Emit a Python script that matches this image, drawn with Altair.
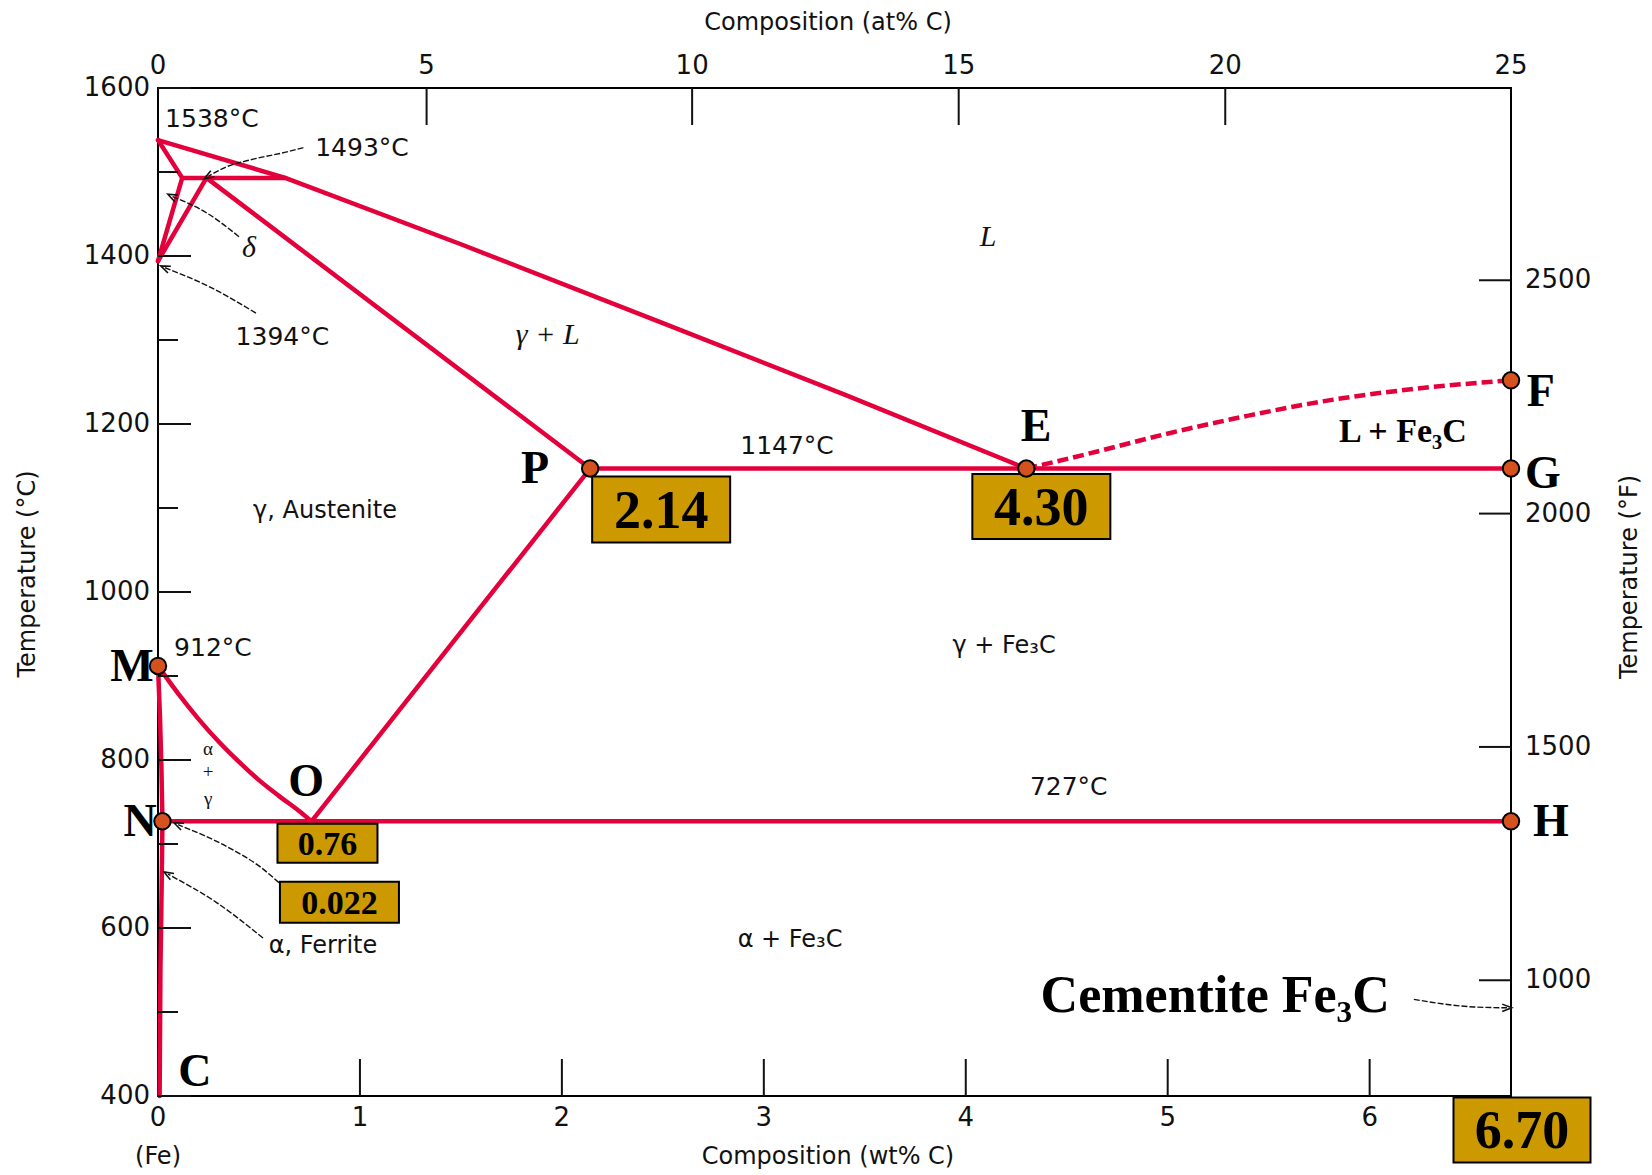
import altair as alt
import pandas as pd

# ---------------- data: axes ----------------
WT_TICKS = [0, 1, 2, 3, 4, 5, 6]
T_MAJOR = [400, 600, 800, 1000, 1200, 1400, 1600]
T_MINOR = [500, 700, 900, 1100, 1300, 1500]
AT_PCT_LABELS = [0, 5, 10, 15, 20, 25]
AT_PCT_AT_WT = [0.0, 1.33, 2.645, 3.965, 5.285, 6.70]
F_TICKS = [1000, 1500, 2000, 2500]

# ---------------- data: phase boundaries (wt% C, deg C) ----------------
LIQUIDUS_WT = [0.0, 0.63, 1.50, 2.50, 3.40, 4.30]
LIQUIDUS_T = [1538, 1493, 1414, 1320, 1235, 1147]
DELTA_SOLIDUS_WT = [0.0, 0.12]
DELTA_SOLIDUS_T = [1538, 1493]
PERITECTIC_WT = [0.12, 0.63]
PERITECTIC_T = [1493, 1493]
DELTA_SOLVUS_WT = [0.12, 0.0]
DELTA_SOLVUS_T = [1493, 1394]
GAMMA_DELTA_WT = [0.24, 0.0]
GAMMA_DELTA_T = [1493, 1394]
SOLIDUS_WT = [0.24, 2.14]
SOLIDUS_T = [1493, 1147]
EUTECTIC_WT = [2.14, 6.70]
EUTECTIC_T = [1147, 1147]
ACM_WT = [0.76, 2.14]
ACM_T = [727, 1147]
A3_WT = [0.0, 0.10, 0.20, 0.30, 0.40, 0.50, 0.60, 0.70, 0.76]
A3_T = [912, 879, 849, 822, 798, 776, 757, 739, 727]
EUTECTOID_WT = [0.022, 6.70]
EUTECTOID_T = [727, 727]
FERRITE_WT = [0.0, 0.010, 0.017, 0.022, 0.018, 0.012, 0.008]
FERRITE_T = [912, 850, 790, 727, 650, 550, 400]
CEMENTITE_LIQ_WT = [4.30, 4.58, 4.99, 5.40, 5.82, 6.23, 6.70]
CEMENTITE_LIQ_T = [1147, 1163, 1188, 1210, 1229, 1242, 1252]

# ---------------- data: key points ----------------
POINT_NAMES = ["M", "N", "O", "P", "E", "F", "G", "H", "C"]
POINT_WT = [0.0, 0.022, 0.76, 2.14, 4.30, 6.70, 6.70, 6.70, 0.008]
POINT_T = [912, 727, 727, 1147, 1147, 1252, 1147, 727, 400]
MARKED = ["M", "N", "P", "E", "F", "G", "H"]
LETTER_WT = [-0.129, -0.089, 0.733, 1.867, 4.348, 6.848, 6.858, 6.898, 0.183]
LETTER_T = [911, 726, 774, 1146, 1196, 1238, 1140, 726, 429]

# ---------------- data: annotations ----------------
TEMP_NOTES = ["1538°C", "1493°C", "1394°C", "1147°C", "912°C", "727°C"]
TEMP_NOTES_WT = [0.267, 1.01, 0.616, 3.115, 0.272, 4.51]
TEMP_NOTES_T = [1563, 1529, 1304, 1174, 933, 768]

PHASE_NOTES = ["γ, Austenite", "γ + Fe₃C", "α + Fe₃C", "α, Ferrite"]
PHASE_NOTES_WT = [0.827, 4.19, 3.13, 0.817]
PHASE_NOTES_T = [1096, 936, 586, 579]

ITALIC_NOTES = ["L", "γ + L", "δ"]
ITALIC_NOTES_WT = [4.11, 1.93, 0.45]
ITALIC_NOTES_T = [1423, 1306, 1410]

ALPHA_GAMMA = ["α", "+", "γ"]
ALPHA_GAMMA_WT = [0.248, 0.248, 0.248]
ALPHA_GAMMA_T = [813, 786, 753]

# leader arrows: vertex lists, last vertex is the arrow tip
ARROWS = {
    "1493": ([0.72, 0.639, 0.451, 0.337, 0.25], [1529, 1524, 1514, 1506, 1495]),
    "delta": ([0.401, 0.243, 0.07], [1423, 1451, 1471]),
    "1394": ([0.485, 0.258, 0.035], [1332, 1363, 1386]),
    "n_box": ([0.599, 0.505, 0.371, 0.10], [654, 673, 693, 723]),
    "ferrite": ([0.52, 0.292, 0.05], [588, 630, 664]),
    "cementite": ([6.219, 6.517, 6.68], [515, 506, 505]),
}
ARROW_TIP_ANGLE = {"1493": 240, "delta": 296, "1394": 293, "n_box": 294,
                   "ferrite": 300, "cementite": 90}

# ---------------- styles ----------------
W, H = 1353, 1008
RED = "#E3003B"
DOT = "#D5521E"
GOLD = "#CC9900"
INK = "#111111"
SANS = "DejaVu Sans"
SERIF = "Liberation Serif"

xs = alt.Scale(domain=[0, 6.7], nice=False, zero=False)
ys = alt.Scale(domain=[400, 1600], nice=False, zero=False)


def X(f="wt"):
    return alt.X(f"{f}:Q", scale=xs, axis=None)


def Y(f="T"):
    return alt.Y(f"{f}:Q", scale=ys, axis=None)


def table(labels, wts, ts):
    return pd.DataFrame({"label": labels, "wt": wts, "T": ts})


def polyline(wts, ts):
    return pd.DataFrame({"i": range(len(wts)), "wt": wts, "T": ts})


layers = []

# ---- phase boundary lines ----
straight = [
    ("liquidus", LIQUIDUS_WT, LIQUIDUS_T),
    ("delta_solidus", DELTA_SOLIDUS_WT, DELTA_SOLIDUS_T),
    ("peritectic", PERITECTIC_WT, PERITECTIC_T),
    ("delta_solvus", DELTA_SOLVUS_WT, DELTA_SOLVUS_T),
    ("gamma_delta", GAMMA_DELTA_WT, GAMMA_DELTA_T),
    ("solidus", SOLIDUS_WT, SOLIDUS_T),
    ("eutectic", EUTECTIC_WT, EUTECTIC_T),
    ("acm", ACM_WT, ACM_T),
    ("eutectoid", EUTECTOID_WT, EUTECTOID_T),
    ("ferrite", FERRITE_WT, FERRITE_T),
]
rows = []
for name, wts, ts in straight:
    for i, (w, t) in enumerate(zip(wts, ts)):
        rows.append({"seg": name, "i": i, "wt": w, "T": t})
layers.append(
    alt.Chart(pd.DataFrame(rows))
    .mark_line(color=RED, strokeWidth=4.5, strokeJoin="round", strokeCap="round")
    .encode(x=X(), y=Y(), detail="seg:N", order="i:Q")
)
# curved A3 boundary
layers.append(
    alt.Chart(polyline(A3_WT, A3_T))
    .mark_line(color=RED, strokeWidth=4.5, strokeCap="round", interpolate="monotone")
    .encode(x=X(), y=Y(), order="i:Q")
)
# dashed cementite liquidus
layers.append(
    alt.Chart(polyline(CEMENTITE_LIQ_WT, CEMENTITE_LIQ_T))
    .mark_line(color=RED, strokeWidth=4.5, strokeDash=[11, 5], interpolate="monotone")
    .encode(x=X(), y=Y(), order="i:Q")
)

# ---- axis ticks (drawn inward) ----
layers.append(alt.Chart(pd.DataFrame({"T": T_MAJOR})).mark_rule(color=INK, strokeWidth=2)
              .encode(y=Y(), x=alt.value(0), x2=alt.value(33)))
layers.append(alt.Chart(pd.DataFrame({"T": T_MINOR})).mark_rule(color=INK, strokeWidth=2)
              .encode(y=Y(), x=alt.value(0), x2=alt.value(20)))
layers.append(alt.Chart(pd.DataFrame({"wt": WT_TICKS[1:]})).mark_rule(color=INK, strokeWidth=2)
              .encode(x=X(), y=alt.value(H), y2=alt.value(H - 37)))
layers.append(alt.Chart(pd.DataFrame({"wt": AT_PCT_AT_WT[1:-1]})).mark_rule(color=INK, strokeWidth=2)
              .encode(x=X(), y=alt.value(0), y2=alt.value(37)))
f_df = pd.DataFrame({"F": F_TICKS})
layers.append(alt.Chart(f_df).transform_calculate(C="(datum.F - 32) * 5 / 9")
              .mark_rule(color=INK, strokeWidth=2)
              .encode(y=Y("C"), x=alt.value(W - 32), x2=alt.value(W)))

# ---- tick labels ----
layers.append(alt.Chart(pd.DataFrame({"T": T_MAJOR}))
              .mark_text(align="right", baseline="middle", dx=-8, font=SANS, fontSize=26, color=INK)
              .encode(y=Y(), x=alt.value(0), text=alt.Text("T:Q", format="d")))
layers.append(alt.Chart(pd.DataFrame({"wt": WT_TICKS}))
              .mark_text(align="center", baseline="middle", dy=22, font=SANS, fontSize=26, color=INK)
              .encode(x=X(), y=alt.value(H), text=alt.Text("wt:Q", format="d")))
layers.append(alt.Chart(pd.DataFrame({"wt": AT_PCT_AT_WT, "lab": AT_PCT_LABELS}))
              .mark_text(align="center", baseline="middle", dy=-22, font=SANS, fontSize=26, color=INK)
              .encode(x=X(), y=alt.value(0), text=alt.Text("lab:Q", format="d")))
layers.append(alt.Chart(f_df).transform_calculate(C="(datum.F - 32) * 5 / 9")
              .mark_text(align="left", baseline="middle", dx=14, font=SANS, fontSize=26, color=INK)
              .encode(y=Y("C"), x=alt.value(W), text=alt.Text("F:Q", format="d")))


# ---- axis titles ----
def title_text(txt, x, y, angle=0, size=24):
    return (alt.Chart(pd.DataFrame({"t": [txt]}))
            .mark_text(align="center", baseline="middle", font=SANS, fontSize=size, color=INK, angle=angle)
            .encode(x=alt.value(x), y=alt.value(y), text="t:N"))


layers.append(title_text("Composition (at% C)", 670, -65))
layers.append(title_text("Composition (wt% C)", 670, 1069))
layers.append(title_text("(Fe)", 0, 1069))
layers.append(title_text("Temperature (°C)", -130, 486, angle=270))
layers.append(title_text("Temperature (°F)", 1472, 489, angle=270))

# ---- leader arrows ----
arows, heads = [], []
for name, (wts, ts) in ARROWS.items():
    for i, (w, t) in enumerate(zip(wts, ts)):
        arows.append({"arrow": name, "i": i, "wt": w, "T": t})
    heads.append({"arrow": name, "wt": wts[-1], "T": ts[-1], "ang": ARROW_TIP_ANGLE[name]})
layers.append(alt.Chart(pd.DataFrame(arows))
              .mark_line(color=INK, strokeWidth=1.4, strokeDash=[6, 2], interpolate="monotone")
              .encode(x=X(), y=Y(), detail="arrow:N", order="i:Q"))
layers.append(alt.Chart(pd.DataFrame(heads))
              .mark_point(shape="M-0.7,0.9 L0,-0.9 L0.7,0.9", filled=False, stroke=INK,
                          strokeWidth=1.6, size=110, opacity=1)
              .encode(x=X(), y=Y(), angle=alt.Angle("ang:Q", scale=None)))

# ---- value boxes ----
pts = table(POINT_NAMES, POINT_WT, POINT_T).set_index("label")


def value_box(point, decimals, w, h, dx, dy, size, t_override=None):
    wt = float(pts.loc[point, "wt"])
    t = float(pts.loc[point, "T"]) if t_override is None else t_override
    d = pd.DataFrame({"wt": [wt], "T": [t], "label": [f"{wt:.{decimals}f}"]})
    rect = (alt.Chart(d)
            .mark_rect(fill=GOLD, stroke="black", strokeWidth=2, opacity=1,
                       xOffset=dx - w / 2, x2Offset=dx + w / 2,
                       yOffset=dy - h / 2, y2Offset=dy + h / 2)
            .encode(x=X(), x2="wt:Q", y=Y(), y2="T:Q"))
    txt = (alt.Chart(d)
           .mark_text(font=SERIF, fontWeight="bold", fontSize=size, color="black",
                      align="center", baseline="middle", dx=dx, dy=dy + 2)
           .encode(x=X(), y=Y(), text="label:N"))
    return [rect, txt]


layers += value_box("P", 2, 138, 66, 71, 41, 54)
layers += value_box("E", 2, 138, 65, 15, 38, 54)
layers += value_box("F", 2, 137, 65, 11, 34, 54, t_override=400)
layers += value_box("O", 2, 100, 39, 16, 22, 34)
layers += value_box("N", 3, 119, 41, 177, 81, 34)

# ---- key point markers ----
layers.append(alt.Chart(table(POINT_NAMES, POINT_WT, POINT_T))
              .transform_filter(alt.FieldOneOfPredicate(field="label", oneOf=MARKED))
              .mark_circle(color=DOT, opacity=1, size=270, stroke="black", strokeWidth=2)
              .encode(x=X(), y=Y()))

# ---- point letters ----
layers.append(alt.Chart(table(POINT_NAMES, LETTER_WT, LETTER_T))
              .mark_text(font=SERIF, fontWeight="bold", fontSize=46, color="black",
                         align="center", baseline="middle")
              .encode(x=X(), y=Y(), text="label:N"))

# ---- region and temperature notes ----
layers.append(alt.Chart(table(TEMP_NOTES, TEMP_NOTES_WT, TEMP_NOTES_T))
              .mark_text(font=SANS, fontSize=25, color=INK, align="center", baseline="middle")
              .encode(x=X(), y=Y(), text="label:N"))
layers.append(alt.Chart(table(PHASE_NOTES, PHASE_NOTES_WT, PHASE_NOTES_T))
              .mark_text(font=SANS, fontSize=24, color=INK, align="center", baseline="middle")
              .encode(x=X(), y=Y(), text="label:N"))
layers.append(alt.Chart(table(ITALIC_NOTES, ITALIC_NOTES_WT, ITALIC_NOTES_T))
              .mark_text(font=SERIF, fontStyle="italic", fontSize=30, color=INK, align="center", baseline="middle")
              .encode(x=X(), y=Y(), text="label:N"))
layers.append(alt.Chart(table(ALPHA_GAMMA, ALPHA_GAMMA_WT, ALPHA_GAMMA_T))
              .mark_text(font=SERIF, fontSize=19, color=INK, align="center", baseline="middle")
              .encode(x=X(), y=Y(), text="label:N"))
layers.append(alt.Chart(table(["L + Fe₃C"], [6.165], [1190]))
              .mark_text(font=SERIF, fontWeight="bold", fontSize=34, color="black", align="center", baseline="middle")
              .encode(x=X(), y=Y(), text="label:N"))
layers.append(alt.Chart(table(["Cementite Fe₃C"], [5.235], [519]))
              .mark_text(font=SERIF, fontWeight="bold", fontSize=52, color="black", align="center", baseline="middle")
              .encode(x=X(), y=Y(), text="label:N"))

chart = (
    alt.layer(*layers)
    .properties(width=W, height=H,
                padding={"left": 158, "top": 88, "right": 141, "bottom": 79},
                autosize=alt.AutoSizeParams(type="none"))
    .configure_view(stroke="black", strokeWidth=2)
)

chart.save("out.html", embed_options={"renderer": "svg", "actions": False})
